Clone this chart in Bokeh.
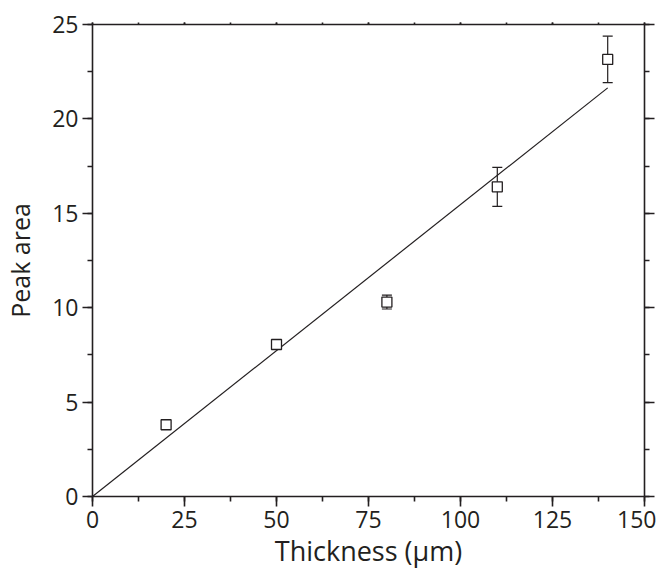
from bokeh.plotting import figure
from bokeh.models import (Range1d, LinearAxis, SingleIntervalTicker, Whisker,
                          TeeHead, ColumnDataSource, CustomJSTickFormatter)
from bokeh.embed import file_html
from bokeh.resources import INLINE

# data
thickness = [20, 50, 80, 110, 140]
peak_area = [3.8, 8.05, 10.3, 16.4, 23.15]
peak_err = [0.1, 0.1, 0.37, 1.03, 1.23]
fit_x = [0, 140]
fit_slope = 0.1546
fit_y = [fit_slope * x for x in fit_x]
x_ticks_interval = 25
y_ticks_interval = 5

INK = "#231f20"
FONT = "Open Sans"

p = figure(width=649, height=560, output_backend="svg", toolbar_location=None,
           x_range=Range1d(0, 150), y_range=Range1d(0, 25),
           x_axis_label="Thickness (µm)", y_axis_label="Peak area",
           min_border_left=85, min_border_right=12, min_border_top=24,
           min_border_bottom=60)
p.frame_width = 552
p.frame_height = 472
p.outline_line_color = None
p.background_fill_color = "white"
p.border_fill_color = "white"
p.xgrid.visible = False
p.ygrid.visible = False


def style_axis(ax, interval, labels=True, tick_out=10, minor_out=5):
    ax.ticker = SingleIntervalTicker(interval=interval, num_minor_ticks=2)
    ax.axis_line_color = INK
    ax.axis_line_width = 1.6
    ax.major_tick_line_color = INK
    ax.minor_tick_line_color = INK
    ax.major_tick_line_width = 1.6
    ax.minor_tick_line_width = 1.6
    ax.major_tick_in = 0
    ax.major_tick_out = tick_out
    ax.minor_tick_in = 0
    ax.minor_tick_out = minor_out
    ax.major_label_text_font = FONT
    ax.major_label_text_font_size = "23px"
    ax.major_label_text_color = INK
    ax.major_label_standoff = 4
    ax.axis_label_text_font = FONT
    ax.axis_label_text_font_style = "normal"
    ax.axis_label_text_color = INK
    if not labels:
        ax.formatter = CustomJSTickFormatter(code="return ''")
        ax.major_label_standoff = 0


style_axis(p.xaxis[0], x_ticks_interval)
style_axis(p.yaxis[0], y_ticks_interval)
p.xaxis[0].axis_label_text_font_size = "27px"
p.yaxis[0].axis_label_text_font_size = "25px"
p.xaxis[0].axis_label_standoff = 1
p.yaxis[0].axis_label_standoff = 12

right = LinearAxis()
style_axis(right, y_ticks_interval, labels=False)
p.add_layout(right, "right")

top = LinearAxis()
style_axis(top, x_ticks_interval, labels=False, tick_out=2, minor_out=2)
top.axis_line_width = 1.3
p.add_layout(top, "above")

# fit line
p.line(fit_x, fit_y, line_color=INK, line_width=1.2)

# error bars
src = ColumnDataSource(dict(
    x=thickness, y=peak_area,
    lo=[a - e for a, e in zip(peak_area, peak_err)],
    hi=[a + e for a, e in zip(peak_area, peak_err)],
))
w = Whisker(source=src, base="x", lower="lo", upper="hi", dimension="height",
            line_color=INK, line_width=1.2,
            lower_head=TeeHead(size=10, line_color=INK, line_width=1.2),
            upper_head=TeeHead(size=10, line_color=INK, line_width=1.2))
p.add_layout(w)

# markers
p.scatter("x", "y", source=src, marker="square", size=10,
          fill_color="white", line_color=INK, line_width=1.3)

open("out.html", "w").write(file_html(p, INLINE))
